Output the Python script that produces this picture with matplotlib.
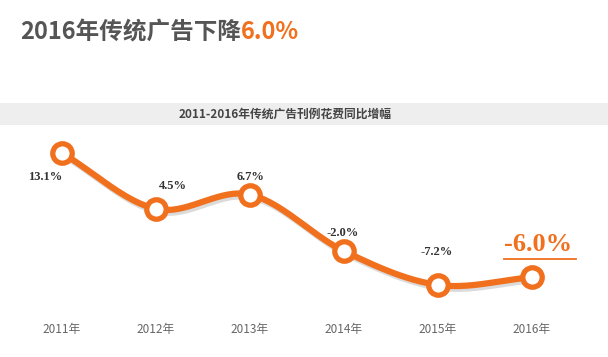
import numpy as np
import matplotlib
matplotlib.use("Agg")
import matplotlib.pyplot as plt
from matplotlib.patches import Rectangle
import matplotlib.patheffects as pe

plt.rcParams['font.family'] = ['Noto Sans CJK SC', 'DejaVu Sans']

years = ["2011年", "2012年", "2013年", "2014年", "2015年", "2016年"]
values = [13.1, 4.5, 6.7, -2.0, -7.2, -6.0]
value_labels = ["13.1%", "4.5%", "6.7%", "-2.0%", "-7.2%", "-6.0%"]
main_title_a = "2016年传统广告下降"
main_title_b = "6.0%"
band_title = "2011-2016年传统广告刊例花费同比增幅"

ORANGE = "#F0701E"
W, H = 608, 357
fig = plt.figure(figsize=(W / 100, H / 100), dpi=100)
fig.patch.set_facecolor("white")

# gray band behind subtitle
fig.patches.append(Rectangle((0, 1 - 125 / H), 1, 22 / H, transform=fig.transFigure,
                             facecolor="#EEEEEE", edgecolor="none", zorder=0))

# axes in pixel bounds
top, bottom = 130, 310
ax = fig.add_axes([0, 1 - bottom / H, 1, (bottom - top) / H])
ax.set_facecolor("none")
px_per_x = 94.0
x0 = 62.0
ax.set_xlim(-x0 / px_per_x, (W - x0) / px_per_x)
px_per_v = 6.5
ax.set_ylim(13.1 - (bottom - 153) / px_per_v, 13.1 + (153 - top) / px_per_v)
for s in ax.spines.values():
    s.set_visible(False)
ax.tick_params(axis="x", length=0, pad=9, labelsize=8.5, labelcolor="#666666")
ax.set_yticks([])

x = np.arange(len(values))
ax.set_xticks(x)
ax.set_xticklabels(years)

# smooth curve via Catmull-Rom spline through the data points
def catmull_rom(xs, ys, n=40):
    xs = np.asarray(xs, float)
    ys = np.asarray(ys, float)
    px = np.concatenate([[2 * xs[0] - xs[1]], xs, [2 * xs[-1] - xs[-2]]])
    py = np.concatenate([[2 * ys[0] - ys[1]], ys, [2 * ys[-1] - ys[-2]]])
    outx, outy = [], []
    t = np.linspace(0, 1, n)
    for i in range(1, len(px) - 2):
        p0, p1, p2, p3 = (np.array([px[j], py[j]]) for j in range(i - 1, i + 3))
        for tt in t:
            pt = 0.5 * ((2 * p1) + (-p0 + p2) * tt + (2 * p0 - 5 * p1 + 4 * p2 - p3) * tt ** 2
                        + (-p0 + 3 * p1 - 3 * p2 + p3) * tt ** 3)
            outx.append(pt[0]); outy.append(pt[1])
    return np.array(outx), np.array(outy)

sx, sy = catmull_rom(x, values)
ax.plot(sx, sy, color=ORANGE, lw=4.5, solid_capstyle="round", zorder=2,
        path_effects=[pe.SimpleLineShadow(offset=(1.5, -2), shadow_color="#999999", alpha=0.35),
                      pe.Normal()])
ax.plot(x, values, linestyle="none", marker="o", markersize=14, markerfacecolor="white",
        markeredgecolor=ORANGE, markeredgewidth=3.8, zorder=3)

# value labels (pixel offsets relative to point)
offsets = [(-17, -24), (17, 23), (1, 18), (-1, 18), (-1, 33)]
for i in range(5):
    ax.annotate(value_labels[i], (x[i], values[i]), xytext=offsets[i], textcoords="offset pixels",
                ha="center", va="center", fontsize=9, fontweight="bold",
                family="Liberation Serif", color="#333333")
ax.annotate(value_labels[5], (x[5], values[5]), xytext=(6, 33), textcoords="offset pixels",
            ha="center", va="center", fontsize=19, fontweight="bold",
            family="Liberation Serif", color=ORANGE)
# underline
fig.add_artist(plt.Line2D([504 / W, 576 / W], [1 - 259 / H, 1 - 259 / H],
                          color=ORANGE, lw=1.3, transform=fig.transFigure))

# titles
t1 = fig.text(20 / W, 1 - 32 / H, main_title_a, fontsize=17, fontweight="bold",
              color="#555555", va="center", ha="left")
fig.canvas.draw()
bb = t1.get_window_extent()
fig.text(bb.x1 / W, 1 - 32 / H, main_title_b, fontsize=17, fontweight="bold",
         color=ORANGE, va="center", ha="left")

fig.text(285 / W, 1 - 114 / H, band_title, fontsize=8.5, fontweight="bold",
         color="#444444", va="center", ha="center")

fig.savefig("out.png", dpi=100)
